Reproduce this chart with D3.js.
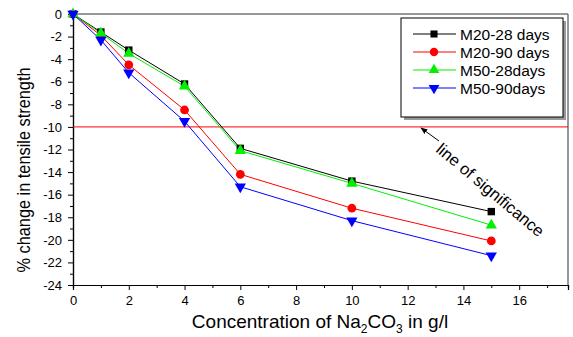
<!DOCTYPE html>
<html>
<head>
<meta charset="utf-8">
<script src="https://cdn.jsdelivr.net/npm/d3@7"></script>
<style>
body { margin: 0; background: #fff; }
text { font-family: Arial, 'Liberation Sans', sans-serif; }
</style>
</head>
<body>
<div class="canvas"></div>
<script>
// data
const concentrations = [0, 1, 2, 4, 6, 10, 15];
const m20_28 = [0, -1.6, -3.2, -6.2, -11.9, -14.8, -17.5];
const m20_90 = [0, -1.9, -4.5, -8.5, -14.2, -17.2, -20.1];
const m50_28 = [0, -1.7, -3.5, -6.4, -12.1, -15.0, -18.7];
const m50_90 = [0, -2.3, -5.2, -9.5, -15.3, -18.3, -21.4];
const seriesNames = ['M20-28 days', 'M20-90 days', 'M50-28days', 'M50-90days'];
const xTicks = [0, 2, 4, 6, 8, 10, 12, 14, 16];
const yTicks = [0, -2, -4, -6, -8, -10, -12, -14, -16, -18, -20, -22, -24];
const significance = -10;

const series = [
	{ name: seriesNames[0], values: m20_28, color: '#000000', symbol: d3.symbolSquare },
	{ name: seriesNames[1], values: m20_90, color: '#ff0000', symbol: d3.symbolCircle },
	{ name: seriesNames[2], values: m50_28, color: '#00f000', symbol: d3.symbolTriangle },
	{ name: seriesNames[3], values: m50_90, color: '#0000ff', symbol: 'down' }
];

const svg = d3.select('.canvas')
	.append('svg')
	.attr('width', 573)
	.attr('height', 337);

const margin = { top: 14, right: 5, bottom: 52, left: 73 };
const graphWidth = 573 - margin.left - margin.right;
const graphHeight = 337 - margin.top - margin.bottom;

const graph = svg.append('g')
	.attr('transform', `translate(${margin.left},${margin.top})`);

// scales
const x = d3.scaleLinear().domain([0, 17.75]).range([0, graphWidth]);
const y = d3.scaleLinear().domain([-24, 0]).range([graphHeight, 0]);

// frame (top + right, with grey right edge)
graph.append('line')
	.attr('x1', 0).attr('x2', graphWidth)
	.attr('y1', 0).attr('y2', 0)
	.attr('stroke', '#333').attr('stroke-width', 1);
graph.append('line')
	.attr('x1', graphWidth).attr('x2', graphWidth)
	.attr('y1', 0).attr('y2', graphHeight)
	.attr('stroke', '#777').attr('stroke-width', 1.5);

// axes
const xAxis = d3.axisBottom(x).tickValues(xTicks).tickSize(5).tickPadding(6).tickFormat(d3.format('d'));
const xMinor = d3.axisBottom(x).tickValues([1, 3, 5, 7, 9, 11, 13, 15, 17]).tickSize(3).tickFormat('');
const yAxis = d3.axisLeft(y).tickValues(yTicks).tickSize(5).tickPadding(6)
	.tickFormat(d => d < 0 ? '-' + Math.abs(d) : d);
const yMinor = d3.axisLeft(y).tickValues(d3.range(-23, 0, 2)).tickSize(3).tickFormat('');

const xAxisGroup = graph.append('g').attr('transform', `translate(0,${graphHeight})`).call(xAxis);
graph.append('g').attr('transform', `translate(0,${graphHeight})`).call(xMinor);
const yAxisGroup = graph.append('g').call(yAxis);
graph.append('g').call(yMinor);

graph.selectAll('.domain').attr('stroke', '#000').attr('stroke-width', 1.2);
graph.selectAll('.tick line').attr('stroke', '#000');
xAxisGroup.selectAll('text').attr('font-size', 13).attr('fill', '#000');
yAxisGroup.selectAll('text').attr('font-size', 13).attr('fill', '#000');

// line of significance
graph.append('line')
	.attr('x1', 0).attr('x2', graphWidth)
	.attr('y1', y(significance)).attr('y2', y(significance))
	.attr('stroke', '#ff0000').attr('stroke-width', 1);

// series lines
const line = d3.line()
	.x((d, i) => x(concentrations[i]))
	.y(d => y(d));

const symbolPath = (s, size) => {
	if (s === 'down') {
		return d3.symbol(d3.symbolTriangle, size)();
	}
	return d3.symbol(s, size)();
};

series.forEach(s => {
	graph.append('path')
		.attr('d', line(s.values))
		.attr('fill', 'none')
		.attr('stroke', s.color)
		.attr('stroke-width', 1);
});

series.forEach(s => {
	graph.selectAll(null)
		.data(s.values)
		.enter()
		.append('path')
		.attr('d', symbolPath(s.symbol, s.symbol === d3.symbolCircle ? 60 : 55))
		.attr('transform', (d, i) => `translate(${x(concentrations[i])},${y(d)})` + (s.symbol === 'down' ? ' rotate(180)' : ''))
		.attr('fill', s.color);
});

// legend
const legend = svg.append('g').attr('transform', 'translate(401,18)');
legend.append('rect')
	.attr('x', 3).attr('y', 3)
	.attr('width', 162).attr('height', 99)
	.attr('fill', '#999');
legend.append('rect')
	.attr('width', 162).attr('height', 99)
	.attr('fill', '#fff')
	.attr('stroke', '#000');

series.forEach((s, i) => {
	const g = legend.append('g').attr('transform', `translate(0,${16 + i * 18})`);
	g.append('line')
		.attr('x1', 12).attr('x2', 55)
		.attr('stroke', s.color).attr('stroke-width', 1);
	g.append('path')
		.attr('d', symbolPath(s.symbol, s.symbol === d3.symbolCircle ? 55 : 50))
		.attr('transform', 'translate(33,0)' + (s.symbol === 'down' ? ' rotate(180)' : ''))
		.attr('fill', s.color);
	g.append('text')
		.attr('x', 59).attr('y', 5.5)
		.attr('font-size', 15.5)
		.text(s.name);
});

// annotation
svg.append('defs').append('marker')
	.attr('id', 'arrow')
	.attr('viewBox', '0 0 10 10')
	.attr('refX', 9).attr('refY', 5)
	.attr('markerWidth', 7).attr('markerHeight', 7)
	.attr('orient', 'auto')
	.append('path')
	.attr('d', 'M0,1 L10,5 L0,9 Z')
	.attr('fill', '#000');

svg.append('line')
	.attr('x1', 439).attr('y1', 141)
	.attr('x2', 421).attr('y2', 128)
	.attr('stroke', '#000')
	.attr('marker-end', 'url(#arrow)');

svg.append('text')
	.attr('transform', 'translate(435,151) rotate(40)')
	.attr('font-size', 16.5)
	.text('line of significance');

// axis titles
svg.append('text')
	.attr('transform', 'translate(30,170) rotate(-90)')
	.attr('text-anchor', 'middle')
	.attr('font-size', 18)
	.attr('textLength', 205)
	.attr('lengthAdjust', 'spacingAndGlyphs')
	.text('% change in tensile strength');

const xTitle = svg.append('text')
	.attr('x', 320).attr('y', 328)
	.attr('text-anchor', 'middle')
	.attr('font-size', 19);
xTitle.append('tspan').text('Concentration of Na');
xTitle.append('tspan').attr('dy', 5).attr('font-size', 12).text('2');
xTitle.append('tspan').attr('dy', -5).text('CO');
xTitle.append('tspan').attr('dy', 5).attr('font-size', 12).text('3');
xTitle.append('tspan').attr('dy', -5).text(' in g/l');
</script>
</body>
</html>
